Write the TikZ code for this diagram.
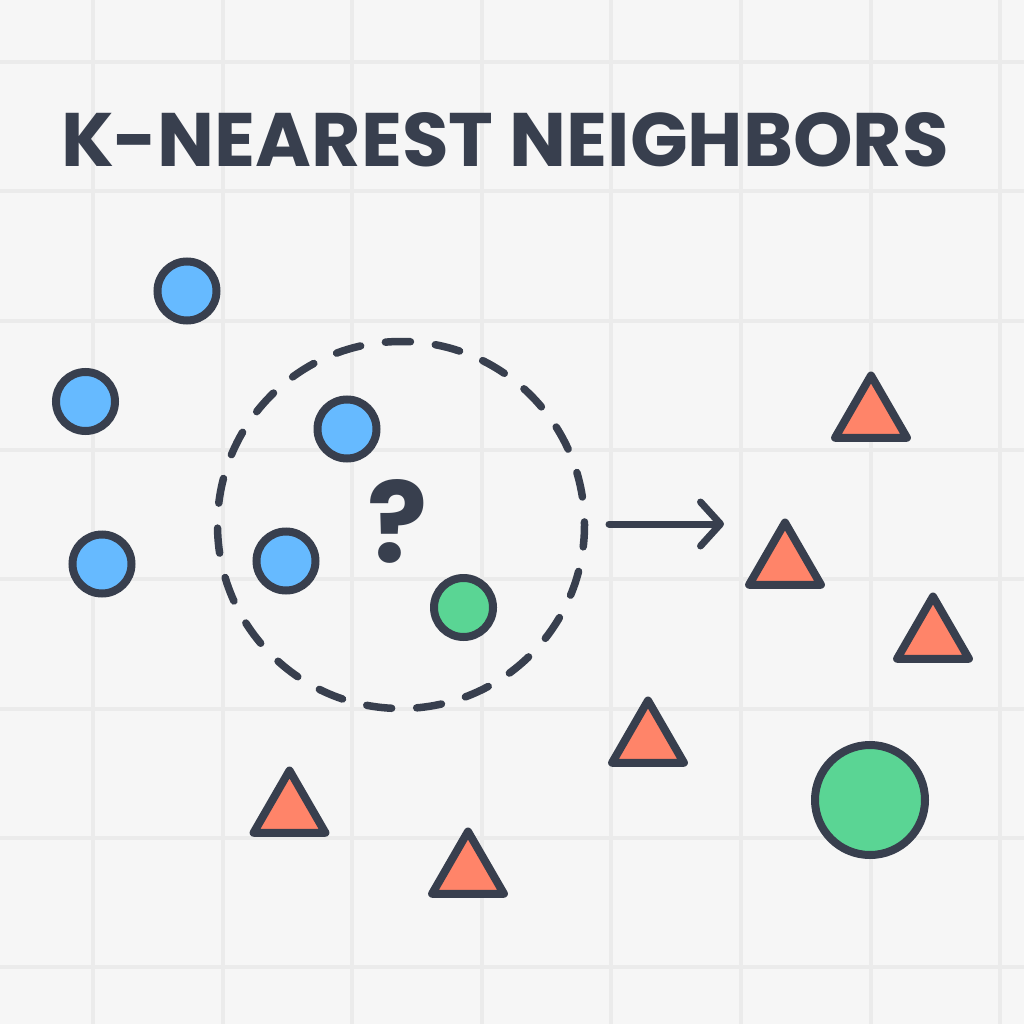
\documentclass[tikz,border=0pt]{standalone}
\usepackage{fontspec}
\setmainfont{Poppins}
\usetikzlibrary{shapes.geometric,arrows.meta,calc}
\definecolor{bg}{HTML}{F6F6F6}
\definecolor{gridc}{HTML}{EBEBEB}
\definecolor{ink}{HTML}{383F4E}
\definecolor{blu}{HTML}{66BAFF}
\definecolor{grn}{HTML}{5AD594}
\definecolor{org}{HTML}{FF8469}
\begin{document}
\begin{tikzpicture}[x=1pt,y=-1pt,
  gridline/.style={draw=gridc,line width=4pt},
  bluept/.style={circle,draw=ink,fill=blu,line width=8pt,minimum size=59pt,inner sep=0pt},
  grnpt/.style={circle,draw=ink,fill=grn,line width=8pt,minimum size=59pt,inner sep=0pt},
  bigpt/.style={circle,draw=ink,fill=grn,line width=8pt,minimum size=110pt,inner sep=0pt},
  tript/.style={regular polygon,regular polygon sides=3,draw=ink,fill=org,line width=8pt,line join=round,minimum size=83pt,inner sep=0pt},
  region/.style={circle,draw=ink,line width=7.5pt,line cap=round,dash pattern=on 25.07pt off 25.07pt,dash phase=22pt,minimum size=367pt,inner sep=0pt},
  conn/.style={draw=ink,line width=7pt,line cap=round,-{Straight Barb[length=20pt,width=44pt,round]}}]
\fill[bg] (0,0) rectangle (1024,1024);
\useasboundingbox (0,0) rectangle (1024,1024);
\foreach \i in {0,...,7}{
  \draw[gridline] ({93+129.6*\i},0) -- ({93+129.6*\i},1024);
  \draw[gridline] (0,{62+129.3*\i}) -- (1024,{62+129.3*\i});
}
\node[font=\fontsize{75.8pt}{80pt}\selectfont\bfseries,text=ink,anchor=base,inner sep=0pt] (title) at (505,167) {K-NEAREST NEIGHBORS};
% query region
\node[region] (knn) at (401,525) {};
\node[font=\fontsize{112pt}{114pt}\selectfont\bfseries,text=ink,inner sep=0pt] (q) at (398,521) {?};
% blue points
\node[bluept] (b1) at (187,291) {};
\node[bluept] (b2) at (85.5,401.5) {};
\node[bluept] (b3) at (347,429) {};
\node[bluept] (b4) at (102,564) {};
\node[bluept] (b5) at (286,561) {};
% green points
\node[grnpt] (g1) at (463.5,607.5) {};
\node[bigpt] (g2) at (870,800) {};
% triangles
\node[tript] (t1) at (871,417) {};
\node[tript] (t2) at (785,564) {};
\node[tript] (t3) at (933,638) {};
\node[tript] (t4) at (648,742) {};
\node[tript] (t5) at (289.5,812) {};
\node[tript] (t6) at (468,873) {};
% arrow
\coordinate (as) at (609,524);
\coordinate (ae) at (724,524);
\draw[conn] (as) -- (ae);
\end{tikzpicture}
\end{document}
